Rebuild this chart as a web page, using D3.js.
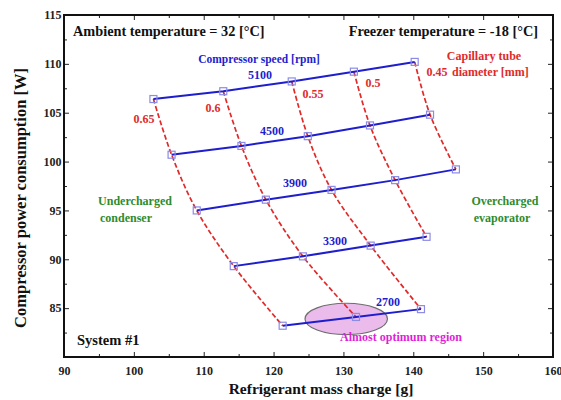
<!DOCTYPE html>
<html>
<head>
<meta charset="utf-8">
<script src="https://cdn.jsdelivr.net/npm/d3@7"></script>
<style>
  html, body { margin: 0; padding: 0; background: #fff; }
  svg { display: block; }
  text { font-family: "Liberation Serif", "Times New Roman", serif; font-weight: bold; }
</style>
</head>
<body>
<svg id="chart" width="561" height="400"></svg>
<script>
// ---- data ----
const speeds = [5100, 4500, 3900, 3300, 2700];            // compressor speed [rpm]
const diameters = [0.65, 0.6, 0.55, 0.5, 0.45];           // capillary tube diameter [mm]
const charge5100 = [102.8, 112.8, 122.6, 131.5, 140.2];
const power5100  = [106.4, 107.2, 108.2, 109.2, 110.2];
const charge4500 = [105.4, 115.4, 124.9, 133.8, 142.4];
const power4500  = [100.7, 101.6, 102.6, 103.7, 104.8];
const charge3900 = [109.0, 118.9, 128.3, 137.4, 146.1];
const power3900  = [95.0, 96.1, 97.1, 98.1, 99.2];
const charge3300 = [114.3, 124.2, 133.9, 141.9];
const power3300  = [89.3, 90.3, 91.4, 92.3];
const charge2700 = [121.3, 131.8, 141.1];
const power2700  = [83.2, 84.1, 84.9];
const xTicks = [90, 100, 110, 120, 130, 140, 150, 160];
const yTicks = [85, 90, 95, 100, 105, 110, 115];
const optimumCenter = [130.4, 83.9];   // ellipse centre (charge, power)
const optimumRadii = [5.9, 1.6];       // ellipse radii in data units

const chargeRows = [charge5100, charge4500, charge3900, charge3300, charge2700];
const powerRows  = [power5100, power4500, power3900, power3300, power2700];

// ---- layout ----
const svg = d3.select("#chart");
const L = 64, R = 553, T = 15, B = 357;
const x = d3.scaleLinear().domain([90, 160]).range([L, R]);
const y = d3.scaleLinear().domain([80, 115]).range([B, T]);

const BLUE = "#1e1ecc", RED = "#e02a2a", GREEN = "#2e8b2e", MAG = "#e01fd8";

const rows = speeds.map((s, i) => chargeRows[i].map((c, j) => ({ s, d: diameters[j], c, p: powerRows[i][j] })));
const cols = diameters.map((d, j) => rows.filter(r => r[j]).map(r => r[j]));

// optimum ellipse
svg.append("ellipse")
  .attr("cx", x(optimumCenter[0])).attr("cy", y(optimumCenter[1]))
  .attr("rx", x(optimumCenter[0] + optimumRadii[0]) - x(optimumCenter[0]))
  .attr("ry", y(optimumCenter[1]) - y(optimumCenter[1] + optimumRadii[1]))
  .attr("fill", "#ebbbec").attr("stroke", "#6e6e6e").attr("stroke-width", 1.2);

const line = d3.line().x(d => x(d.c)).y(d => y(d.p));
const curve = d3.line().x(d => x(d.c)).y(d => y(d.p)).curve(d3.curveCatmullRom.alpha(0.5));

svg.append("g").selectAll("path").data(cols).join("path")
  .attr("d", curve).attr("fill", "none").attr("stroke", RED)
  .attr("stroke-width", 1.7).attr("stroke-dasharray", "5,2.5");

svg.append("g").selectAll("path").data(rows).join("path")
  .attr("d", line).attr("fill", "none").attr("stroke", BLUE).attr("stroke-width", 2);

svg.append("g").selectAll("rect").data(rows.flat()).join("rect")
  .attr("x", d => x(d.c) - 3.5).attr("y", d => y(d.p) - 3.5)
  .attr("width", 7).attr("height", 7)
  .attr("fill", "none").attr("stroke", "#8c8ce6").attr("stroke-width", 1.2);

// ---- axes ----
const axG = svg.append("g").attr("class", "axes");
function styleAxis(g) {
  g.select(".domain").remove();
  g.selectAll("line").attr("stroke", "#222").attr("stroke-width", 1);
  g.selectAll("text").attr("fill", "#222").style("font-size", "12px")
    .style("font-family", "'Liberation Serif', serif").style("font-weight", "bold");
}
const xMinor = d3.range(95, 160, 10);
const yMinor = d3.range(82.5, 115, 5);

axG.append("g").attr("transform", `translate(0,${B})`)
  .call(d3.axisBottom(x).tickValues(xTicks).tickFormat(d3.format("d")).tickSizeInner(-5).tickSizeOuter(0).tickPadding(9))
  .call(styleAxis);
axG.append("g").attr("transform", `translate(0,${B})`)
  .call(d3.axisBottom(x).tickValues(xMinor).tickFormat("").tickSizeInner(-3).tickSizeOuter(0)).call(styleAxis);
axG.append("g").attr("transform", `translate(0,${T})`)
  .call(d3.axisTop(x).tickValues(xTicks).tickFormat("").tickSizeInner(-5).tickSizeOuter(0)).call(styleAxis);
axG.append("g").attr("transform", `translate(0,${T})`)
  .call(d3.axisTop(x).tickValues(xMinor).tickFormat("").tickSizeInner(-3).tickSizeOuter(0)).call(styleAxis);

axG.append("g").attr("transform", `translate(${L},0)`)
  .call(d3.axisLeft(y).tickValues(yTicks).tickFormat(d3.format("d")).tickSizeInner(-5).tickSizeOuter(0).tickPadding(2.5))
  .call(styleAxis);
axG.append("g").attr("transform", `translate(${L},0)`)
  .call(d3.axisLeft(y).tickValues(yMinor).tickFormat("").tickSizeInner(-3).tickSizeOuter(0)).call(styleAxis);
axG.append("g").attr("transform", `translate(${R},0)`)
  .call(d3.axisRight(y).tickValues(yTicks).tickFormat("").tickSizeInner(-5).tickSizeOuter(0)).call(styleAxis);
axG.append("g").attr("transform", `translate(${R},0)`)
  .call(d3.axisRight(y).tickValues(yMinor).tickFormat("").tickSizeInner(-3).tickSizeOuter(0)).call(styleAxis);

svg.append("rect").attr("x", L).attr("y", T).attr("width", R - L).attr("height", B - T)
  .attr("fill", "none").attr("stroke", "#111").attr("stroke-width", 2);

// ---- axis titles ----
svg.append("text").attr("x", 321).attr("y", 394).attr("text-anchor", "middle")
  .style("font-size", "15.5px").attr("fill", "#111").text("Refrigerant mass charge [g]");
svg.append("text").attr("transform", "translate(26,198) rotate(-90)").attr("text-anchor", "middle")
  .style("font-size", "16.5px").attr("fill", "#111").text("Compressor power consumption [W]");

// ---- annotations ----
function label(px, py, txt, color, size, anchor) {
  svg.append("text").attr("x", px).attr("y", py).attr("text-anchor", anchor || "start")
    .attr("fill", color).style("font-size", size + "px").text(txt);
}
label(73, 36, "Ambient temperature = 32 [°C]", "#111", 14.3);
label(538, 36, "Freezer temperature = -18 [°C]", "#111", 14.3, "end");
label(77, 345, "System #1", "#111", 14.5);

label(259, 63, "Compressor speed [rpm]", BLUE, 11.5, "middle");
const speedLabelPos = [[260, 79], [272, 135], [295, 187], [335, 245], [388, 306]];
speeds.forEach((s, i) => label(speedLabelPos[i][0], speedLabelPos[i][1], String(s), BLUE, 12, "middle"));

const diaLabelPos = [[144, 123], [213, 112], [313, 98], [373, 87], [437, 76]];
diameters.forEach((d, j) => label(diaLabelPos[j][0], diaLabelPos[j][1], String(d), RED, 12, "middle"));
label(484, 60, "Capillary tube", RED, 12, "middle");
label(452, 76, "diameter [mm]", RED, 12);

label(135, 205, "Undercharged", GREEN, 12, "middle");
label(126, 222, "condenser", GREEN, 12, "middle");
label(505, 205, "Overcharged", GREEN, 12, "middle");
label(502, 222, "evaporator", GREEN, 12, "middle");

label(401, 341, "Almost optimum region", MAG, 12, "middle");
</script>
</body>
</html>
